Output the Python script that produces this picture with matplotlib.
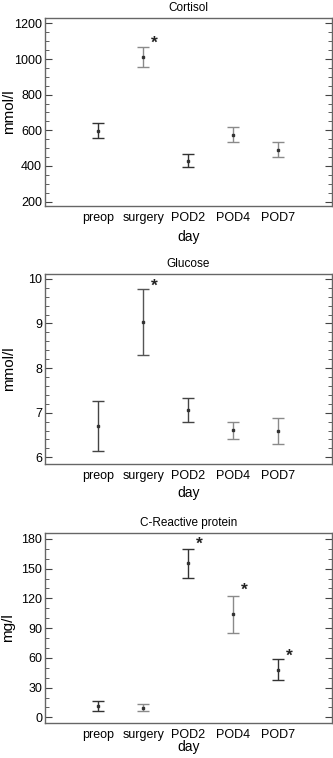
import matplotlib
matplotlib.use("Agg")
import matplotlib.pyplot as plt
from matplotlib.ticker import MultipleLocator

days = ["preop", "surgery", "POD2", "POD4", "POD7"]

# Cortisol (mmol/l): mean, lower, upper
cort_mean = [597, 1009, 430, 576, 490]
cort_low = [554, 953, 395, 532, 449]
cort_high = [642, 1069, 466, 620, 532]
cort_stars = [(1, 1088)]

# Glucose (mmol/l)
glu_mean = [6.70, 9.04, 7.05, 6.61, 6.58]
glu_low = [6.13, 8.30, 6.78, 6.40, 6.29]
glu_high = [7.26, 9.78, 7.32, 6.80, 6.89]
glu_stars = [(1, 9.83)]

# C-reactive protein (mg/l)
crp_mean = [11.8, 9.7, 156.1, 104.0, 47.8]
crp_low = [6.7, 6.4, 141.0, 85.1, 37.3]
crp_high = [16.8, 13.1, 170.2, 122.1, 58.9]
crp_stars = [(2, 175), (3, 128), (4, 62)]

bar_colors = {
    "cort": ["#333333", "#8a8a8a", "#333333", "#8a8a8a", "#8a8a8a"],
    "glu": ["#444444", "#555555", "#444444", "#8a8a8a", "#8a8a8a"],
    "crp": ["#333333", "#8a8a8a", "#333333", "#8a8a8a", "#333333"],
}

plt.rcParams["font.family"] = ["Liberation Sans", "DejaVu Sans"]

fig = plt.figure(figsize=(3.33, 7.58), dpi=100)

# title, unit, data, ylim, major/minor step, axes rect, xlabel y, ylabel x
panels = [
    ("Cortisol", "mmol/l", cort_mean, cort_low, cort_high, cort_stars, "cort",
     (175, 1230), 200, 50, [0.135, 0.7282, 0.862, 0.248], -0.163, -0.125),
    ("Glucose", "mmol/l", glu_mean, glu_low, glu_high, glu_stars, "glu",
     (5.85, 10.11), 1, 0.2, [0.135, 0.3879, 0.862, 0.2507], -0.151, -0.125),
    ("C-Reactive protein", "mg/l", crp_mean, crp_low, crp_high, crp_stars, "crp",
     (-5.7, 186), 30, 10, [0.135, 0.0462, 0.862, 0.2507], -0.128, -0.128),
]

for (title, unit, mean, low, high, stars, key, ylim, major, minor, pos,
     xl_y, yl_x) in panels:
    ax = fig.add_axes(pos)
    x = list(range(len(days)))
    for i in x:
        c = bar_colors[key][i]
        ax.errorbar([i], [mean[i]],
                    yerr=[[mean[i] - low[i]], [high[i] - mean[i]]],
                    fmt="s", ms=2, color="#333333", ecolor=c, elinewidth=1,
                    capsize=4, capthick=1)
    for sx, sy in stars:
        ax.text(sx + 0.25, sy, "*", fontsize=12.5, fontweight="bold",
                ha="center", va="center", color="#222222")
    ax.set_xlim(-1.18, 5.19)
    ax.set_ylim(*ylim)
    ax.set_xticks(x)
    ax.set_xticklabels(days, fontsize=9)
    ax.tick_params(axis="x", length=0, pad=4)
    ax.yaxis.set_major_locator(MultipleLocator(major))
    ax.yaxis.set_minor_locator(MultipleLocator(minor))
    ax.tick_params(axis="y", which="both", direction="in", left=True,
                   right=True, labelsize=9, pad=2, color="#444444")
    ax.tick_params(axis="y", which="major", length=5)
    ax.tick_params(axis="y", which="minor", length=3)
    for s in ax.spines.values():
        s.set_color("#666666")
        s.set_linewidth(1)
    ax.set_title(title, fontsize=8.5, pad=5)
    ax.set_xlabel("day", fontsize=10)
    ax.set_ylabel(unit, fontsize=11)
    ax.xaxis.set_label_coords(0.5, xl_y)
    ax.xaxis.label.set_va("center")
    ax.yaxis.set_label_coords(yl_x, 0.5)
    ax.yaxis.label.set_va("center")

fig.savefig("out.png", dpi=100)
